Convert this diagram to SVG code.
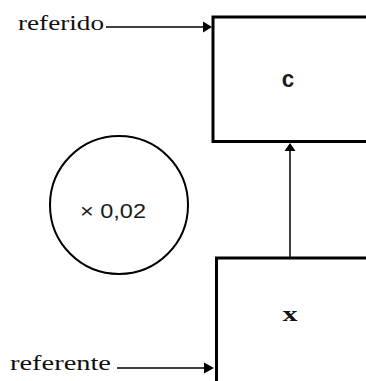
<svg xmlns="http://www.w3.org/2000/svg" width="366" height="381" viewBox="0 0 366 381">
  <style>
    .box { fill: #ffffff; stroke: #000000; stroke-width: 3; }
    .circ { fill: #ffffff; stroke: #000000; stroke-width: 2; }
    .conn { stroke: #000000; stroke-width: 1.5; fill: none; }
    .head { fill: #000000; stroke: none; }
    .serif { font-family: "Liberation Serif", "Times New Roman", serif; fill: #111111; }
    .sans { font-family: "Liberation Sans", Arial, sans-serif; fill: #1a1a1a; }
  </style>
  <rect width="366" height="381" fill="#ffffff"/>
  <g id="node-c">
    <rect class="box" x="213" y="17" width="200" height="124.5"/>
    <text class="sans" x="288" y="86.5" font-size="24" font-weight="bold" text-anchor="middle" textLength="12.5" lengthAdjust="spacingAndGlyphs">c</text>
  </g>
  <g id="node-x">
    <rect class="box" x="216.5" y="258" width="200" height="160"/>
    <text class="serif" x="290" y="320.5" font-size="21" font-weight="bold" text-anchor="middle" textLength="15" lengthAdjust="spacingAndGlyphs">x</text>
  </g>
  <g id="node-gain">
    <circle class="circ" cx="119" cy="205" r="69"/>
    <text class="sans" x="80" y="217.5" font-size="20" textLength="66" lengthAdjust="spacingAndGlyphs">× 0,02</text>
  </g>
  <g id="label-referido">
    <text class="serif" x="18" y="30" font-size="21" textLength="86" lengthAdjust="spacingAndGlyphs">referido</text>
  </g>
  <g id="label-referente">
    <text class="serif" x="10" y="370" font-size="21" textLength="101" lengthAdjust="spacingAndGlyphs">referente</text>
  </g>
  <g id="connectors">
    <line class="conn" x1="106" y1="27" x2="205" y2="27"/>
    <polygon class="head" points="212,27 203,21.5 203,32.5"/>
    <line class="conn" x1="290" y1="258" x2="290" y2="149"/>
    <polygon class="head" points="290,143 284.5,151 295.5,151"/>
    <line class="conn" x1="117" y1="368" x2="206" y2="368"/>
    <polygon class="head" points="214,368 204,362.5 204,373.5"/>
  </g>
</svg>
